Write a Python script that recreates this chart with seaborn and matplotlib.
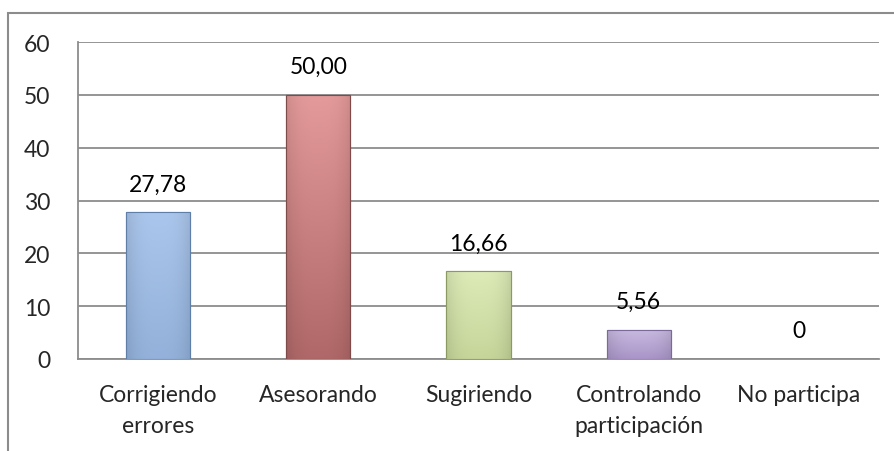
import numpy as np
import pandas as pd
import matplotlib
matplotlib.use("Agg")
import matplotlib.pyplot as plt
import seaborn as sns
from matplotlib.patches import Rectangle
from matplotlib.colors import to_rgb

categories = ["Corrigiendo\nerrores", "Asesorando", "Sugiriendo", "Controlando\nparticipación", "No participa"]
values = [27.78, 50.00, 16.66, 5.56, 0]
value_labels = ["27,78", "50,00", "16,66", "5,56", "0"]
bar_colors = ["#9BB8E0", "#D08484", "#D3E3AA", "#B9A8D4", "#FFFFFF"]
top_colors = ["#ABC6EC", "#E49A9A", "#DDEBB8", "#C8BAE0", "#FFFFFF"]
bot_colors = ["#93B1DA", "#B06868", "#C6D69A", "#A995C8", "#FFFFFF"]
edge_colors = ["#5F7EA8", "#7E4A4A", "#8A9A60", "#7B6A99", "#FFFFFF"]

sns.set_style("white")
plt.rcParams["font.family"] = ["Lato", "DejaVu Sans"]
FS = 16.5

fig = plt.figure(figsize=(8.94, 4.52), dpi=100)
W, H = 894, 452
ax = fig.add_axes([78 / W, 1 - 360 / H, (879 - 78) / W, (360 - 43) / H])

df = pd.DataFrame({"cat": categories, "val": values})
sns.barplot(data=df, x="cat", y="val", hue="cat", palette=bar_colors, legend=False,
            width=0.4, ax=ax, saturation=1, zorder=3)

for i, p in enumerate(ax.patches):
    p.set_edgecolor(edge_colors[i])
    p.set_linewidth(0.8)
    h = p.get_height()
    if h <= 0:
        p.set_visible(False)
        continue
    x0 = p.get_x(); w = p.get_width()
    c1 = np.array(to_rgb(top_colors[i])); c2 = np.array(to_rgb(bot_colors[i]))
    t = np.linspace(0, 1, 64)[:, None]
    grad = (c1[None, :] * (1 - t) + c2[None, :] * t)
    s = np.linspace(-1, 1, 32)
    shade = 1 - 0.10 * np.abs(s) ** 3
    img = grad[:, None, :] * shade[None, :, None]
    im = ax.imshow(np.clip(img, 0, 1), extent=[x0, x0 + w, 0, h], origin="upper",
                   aspect="auto", zorder=3.5)
    im.set_clip_path(p)
    ax.add_patch(Rectangle((x0, 0), w, h, fill=False, edgecolor=edge_colors[i], lw=0.8, zorder=4))

ax.set_xlim(-0.5, 4.5)
ax.set_ylim(0, 60)
ax.set_yticks(range(0, 61, 10))
ax.set_xlabel("")
ax.set_ylabel("")

grid_c = "#8C8C8C"
ax.yaxis.grid(True, color=grid_c, lw=1.3, zorder=0)
ax.set_axisbelow(True)
for s in ["top", "right"]:
    ax.spines[s].set_visible(False)
for s in ["left", "bottom"]:
    ax.spines[s].set_color(grid_c)
    ax.spines[s].set_linewidth(1.3)

ax.tick_params(axis="y", length=8, width=1.3, color=grid_c, labelsize=FS, pad=12)
ax.set_xticks(range(len(categories)))
ax.set_xticklabels(categories, fontsize=FS, linespacing=1.6)
ax.tick_params(axis="x", length=0, pad=18)
ax.set_xticks(np.arange(-0.5, 5, 1), minor=True)
ax.tick_params(axis="x", which="minor", length=8, width=1.3, color=grid_c)

for i, v in enumerate(values):
    ax.annotate(value_labels[i], (i, v), xytext=(0, 28), textcoords="offset pixels",
                ha="center", va="center", fontsize=FS, color="#000000")

fig.patches.append(Rectangle((8 / W, -0.2), 1.2, 1.2 - 14 / H, transform=fig.transFigure,
                             fill=False, edgecolor="#8C8C8C", lw=1.5, figure=fig))

fig.savefig("out.png", dpi=100)
